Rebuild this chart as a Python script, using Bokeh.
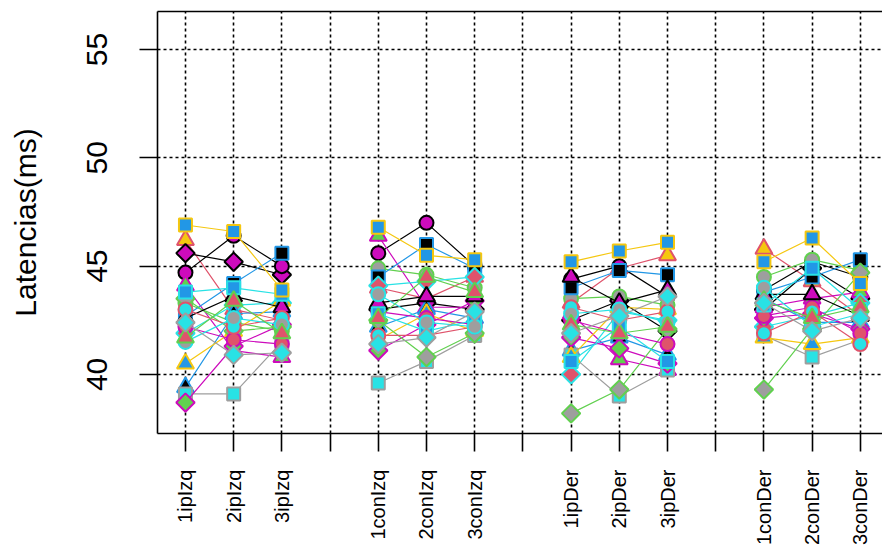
import math
from bokeh.plotting import figure
from bokeh.models import FixedTicker, LinearAxis, Range1d
from bokeh.embed import file_html
from bokeh.resources import INLINE

# ---- data -------------------------------------------------------------
tick_positions = list(range(15))
tick_labels = ["1ipIzq", "2ipIzq", "3ipIzq", "",
               "1conIzq", "2conIzq", "3conIzq", "",
               "1ipDer", "2ipDer", "3ipDer", "",
               "1conDer", "2conDer", "3conDer"]
# x position of each of the 12 conditions (3 per group, gaps between groups)
condition_x = [0, 1, 2, 4, 5, 6, 8, 9, 10, 12, 13, 14]
y_ticks = [40, 45, 50, 55]

BLACK = "#000000"; RED = "#DF536B"; GREEN = "#61D04F"; BLUE = "#2297E6"
CYAN = "#28E2E5"; MAGENTA = "#CD0BBC"; YELLOW = "#F5C710"; GRAY = "#9E9E9E"

subject_marker = ["triangle", "diamond", "circle", "triangle",
                  "circle", "square", "diamond", "triangle", "square",
                  "diamond", "triangle", "diamond", "circle", "triangle",
                  "circle", "square", "circle", "triangle", "diamond", "square"]
subject_fill = [YELLOW, MAGENTA, MAGENTA, GREEN,
                GRAY, BLACK, RED, BLACK, CYAN,
                GREEN, BLUE, GRAY, RED, MAGENTA,
                CYAN, BLUE, GRAY, RED, CYAN, BLUE]
subject_color = [RED, BLACK, BLACK, MAGENTA,
                 GREEN, BLUE, CYAN, BLUE, GRAY,
                 MAGENTA, YELLOW, GREEN, MAGENTA, BLACK,
                 RED, CYAN, CYAN, GREEN, GRAY, YELLOW]

s02 = [46.2, 43.0, 42.5, 44.0, 43.5, 44.5, 43.3, 44.9, 45.5, 45.8, 44.3, 42.7]
s03 = [45.6, 45.2, 44.6, 43.0, 43.3, 43.0, 42.5, 43.4, 42.0, 43.0, 44.9, 43.5]
s04 = [44.7, 46.4, 45.0, 45.6, 47.0, 45.0, 44.4, 45.0, 43.6, 43.9, 45.2, 44.5]
s05 = [44.1, 41.1, 40.8, 46.4, 43.1, 43.1, 42.8, 40.7, 40.2, 43.1, 43.5, 43.8]
s06 = [43.3, 42.4, 42.0, 44.9, 44.6, 44.0, 43.5, 43.6, 43.2, 44.5, 45.3, 44.8]
s07 = [42.7, 44.2, 45.6, 44.5, 46.0, 44.9, 44.0, 44.8, 44.6, 43.8, 44.5, 45.3]
s08 = [41.9, 43.2, 43.3, 44.1, 44.3, 44.5, 40.0, 42.9, 42.5, 42.2, 42.7, 43.3]
s09 = [39.4, 42.8, 42.9, 42.2, 43.0, 42.6, 41.1, 41.7, 40.9, 43.5, 42.4, 42.4]
s10 = [39.1, 39.1, 41.5, 39.6, 40.6, 41.8, 40.9, 39.0, 40.2, 41.8, 40.8, 41.6]
s11 = [38.7, 41.3, 42.3, 41.1, 42.3, 43.4, 41.7, 41.2, 40.5, 42.6, 42.8, 42.1]
s12 = [40.5, 42.0, 43.4, 41.6, 42.8, 42.0, 40.8, 43.1, 43.0, 41.7, 41.4, 41.7]
s13 = [43.5, 42.0, 42.2, 42.5, 40.8, 41.9, 38.2, 39.3, 42.1, 39.3, 42.1, 44.7]
s14 = [42.2, 41.6, 41.4, 42.9, 42.6, 42.3, 42.5, 41.9, 41.4, 42.7, 43.1, 41.9]
s15 = [42.6, 43.6, 43.1, 43.3, 43.6, 43.6, 44.5, 43.3, 43.9, 43.7, 43.7, 42.7]
s16 = [43.0, 42.2, 42.6, 41.8, 41.8, 42.2, 43.1, 42.5, 42.9, 41.9, 42.9, 41.4]
s17 = [43.8, 44.0, 43.7, 42.8, 42.0, 42.5, 40.6, 42.2, 40.6, 43.2, 44.9, 43.0]
s18 = [41.5, 42.6, 42.3, 43.7, 42.4, 42.2, 42.8, 43.0, 42.4, 44.0, 42.2, 42.8]
s19 = [41.7, 43.4, 41.9, 42.6, 44.5, 43.8, 42.3, 41.9, 42.2, 43.4, 42.6, 43.1]
s20 = [42.4, 40.9, 41.0, 41.4, 41.7, 42.9, 41.9, 42.7, 43.6, 43.3, 42.0, 42.6]
s01 = [46.9, 46.6, 43.9, 46.8, 45.5, 45.3, 45.2, 45.7, 46.1, 45.2, 46.3, 44.2]
subjects = [s02, s03, s04, s05, s06, s07, s08, s09, s10,
            s11, s12, s13, s14, s15, s16, s17, s18, s19, s20, s01]

# ---- figure ----------------------------------------------------------
FONT = "Liberation Sans"
p = figure(width=882, height=560,
           x_range=Range1d(-0.58, 14.46), y_range=Range1d(37.27, 56.76),
           output_backend="svg", toolbar_location=None,
           min_border_left=157, min_border_right=0,
           min_border_top=11, min_border_bottom=127)
p.outline_line_color = None
p.background_fill_color = "white"
p.border_fill_color = "white"

# axes
xa = p.xaxis[0]
xa.ticker = FixedTicker(ticks=tick_positions)
xa.major_label_overrides = {t: lab for t, lab in zip(tick_positions, tick_labels)}
xa.major_label_orientation = math.pi / 2
xa.major_label_text_font = FONT
xa.major_label_text_font_size = "20px"
xa.major_label_text_color = "black"
xa.major_label_standoff = 18
xa.major_tick_out = 18
xa.major_tick_in = 0
xa.minor_tick_out = 0
xa.minor_tick_in = 0
xa.axis_line_width = 1.6
xa.major_tick_line_width = 1.6

ya = p.yaxis[0]
ya.ticker = FixedTicker(ticks=y_ticks)
ya.major_label_orientation = "vertical"
ya.major_label_text_font = FONT
ya.major_label_text_font_size = "30px"
ya.major_label_text_color = "black"
ya.major_label_standoff = 32
ya.major_tick_out = 18
ya.major_tick_in = 0
ya.minor_tick_out = 0
ya.minor_tick_in = 0
ya.axis_line_width = 1.6
ya.major_tick_line_width = 1.6
ya.axis_label = "Latencias(ms)"
ya.axis_label_text_font = FONT
ya.axis_label_text_font_style = "normal"
ya.axis_label_text_font_size = "30px"
ya.axis_label_text_color = "black"
ya.axis_label_standoff = 43

top = LinearAxis(ticker=FixedTicker(ticks=[]), major_tick_out=0, major_tick_in=0,
                 minor_tick_out=0, minor_tick_in=0,
                 major_label_text_font_size="0px", axis_line_width=1.6)
p.add_layout(top, "above")

# grid
p.xgrid.ticker = FixedTicker(ticks=tick_positions)
p.ygrid.ticker = FixedTicker(ticks=y_ticks)
for g in (p.xgrid[0], p.ygrid[0]):
    g.grid_line_color = "black"
    g.grid_line_dash = "3 3"
    g.grid_line_width = 1.6
    g.grid_line_alpha = 1.0

size_for = {"square": 13, "triangle": 17, "diamond": 13, "circle": 14}

for vals, mk, fill, col in zip(subjects, subject_marker, subject_fill, subject_color):
    xs = [condition_x[3 * k:3 * k + 3] for k in range(4)]
    ys = [vals[3 * k:3 * k + 3] for k in range(4)]
    p.multi_line(xs=xs, ys=ys, line_color=col, line_width=1.2)
    if mk == "diamond":
        p.scatter(x=condition_x, y=vals, marker="square", angle=math.pi / 4,
                  size=size_for[mk], fill_color=fill, line_color=col, line_width=2)
    else:
        p.scatter(x=condition_x, y=vals, marker=mk, size=size_for[mk],
                  fill_color=fill, line_color=col, line_width=2)

open("out.html", "w").write(file_html(p, INLINE))
